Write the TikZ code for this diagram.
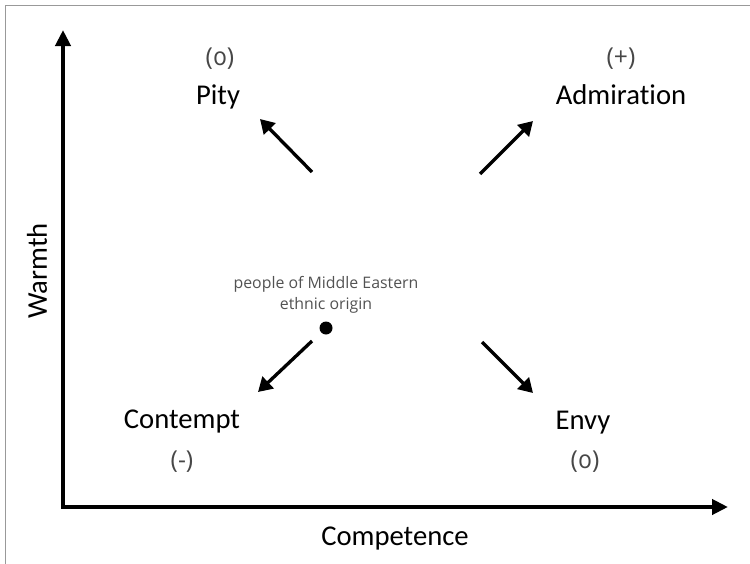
\documentclass[tikz,border=0pt]{standalone}
\usepackage{fontspec}
\setmainfont[Ligatures={NoCommon}]{Carlito}
\newfontfamily\lightfont[Numbers=OldStyle]{Open Sans}
\usetikzlibrary{arrows.meta}

\tikzset{
  frameline/.style={draw=black!40, line width=0.75pt},
  axisline/.style={line width=3pt, line join=miter,
    {Triangle[length=12pt,width=11.25pt]}-{Triangle[length=12pt,width=11.25pt]}},
  pointer/.style={line width=2.5pt, -{Triangle[length=10.5pt,width=12pt]}},
  emotion/.style={font=\fontsize{21.5}{24}\selectfont, text=black, inner sep=0pt},
  axislabel/.style={font=\fontsize{21.5}{24}\selectfont, text=black, inner sep=0pt},
  valence/.style={font=\lightfont\fontsize{18.5}{22}\selectfont, text=black!72, inner sep=0pt},
  groupname/.style={font=\lightfont\fontsize{11.9}{15.75}\selectfont, text=black!68,
    align=center, inner sep=0pt},
  groupdot/.style={circle, fill=black, inner sep=0pt, minimum size=9.75pt},
}

\begin{document}
\begin{tikzpicture}[x=0.75pt, y=-0.75pt]
  \useasboundingbox (0,0) rectangle (750,564);

  % frame edges along the top and left
  \draw[frameline] (5,564) -- (5,5) -- (750,5);

  % axes
  \coordinate (origin) at (63,507);
  \coordinate (ytop) at (63,30);
  \coordinate (xend) at (728,507);
  \draw[axisline] (ytop) -- (origin) -- (xend);
  \node[axislabel, rotate=90] (warmth) at (37,271) {Warmth};
  \node[axislabel] (competence) at (395,539) {Competence};

  % emotions in the four quadrants
  \node[emotion] (pity) at (218,97) {Pity};
  \node[valence] (pityval) at (220,59) {(0)};
  \node[emotion] (admiration) at (621,95) {Admiration};
  \node[valence] (admval) at (621,59) {(+)};
  \node[emotion] (contempt) at (182,422) {Contempt};
  \node[valence] (contval) at (182,462) {(-)};
  \node[emotion] (envy) at (583,423) {Envy};
  \node[valence] (envyval) at (585,462) {(0)};

  % the rated group
  \node[groupname] (group) at (326,294.5) {people of Middle Eastern\\ethnic origin};
  \node[groupdot] (dot) at (326,328) {};

  % arrows toward each emotion
  \coordinate (pityfrom) at (312,172);
  \coordinate (pityto) at (260,119);
  \coordinate (admfrom) at (480,174);
  \coordinate (admto) at (533,121);
  \coordinate (contfrom) at (312,341);
  \coordinate (contto) at (258,392);
  \coordinate (envyfrom) at (482,342);
  \coordinate (envyto) at (533,393);
  \draw[pointer] (pityfrom) -- (pityto);
  \draw[pointer] (admfrom) -- (admto);
  \draw[pointer] (contfrom) -- (contto);
  \draw[pointer] (envyfrom) -- (envyto);
\end{tikzpicture}
\end{document}
